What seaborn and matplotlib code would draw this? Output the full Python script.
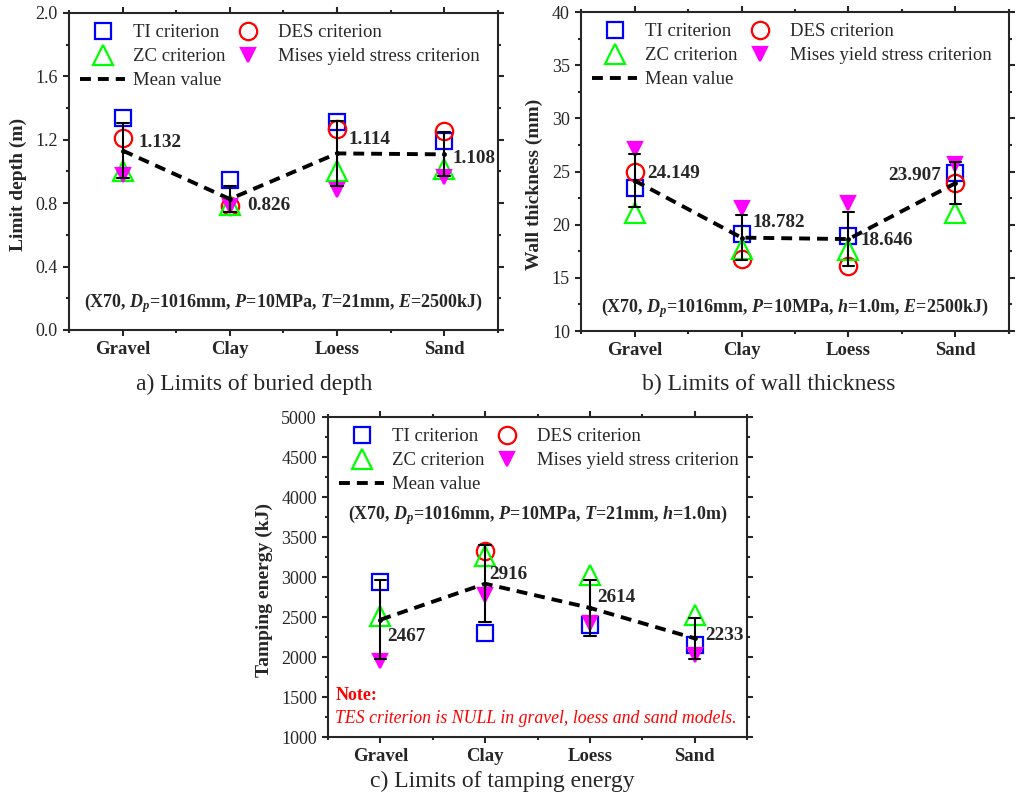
import numpy as np
import pandas as pd
import matplotlib
matplotlib.use("Agg")
import matplotlib.pyplot as plt
from matplotlib.lines import Line2D
from matplotlib.ticker import MultipleLocator, FormatStrFormatter
import seaborn as sns

soils = ["Gravel", "Clay", "Loess", "Sand"]
criteria = ["TI criterion", "DES criterion", "ZC criterion", "Mises yield stress criterion"]

# a) limit depth (m)
depth_ti = [1.34, 0.945, 1.31, 1.195]
depth_des = [1.21, 0.785, 1.265, 1.256]
depth_zc = [1.00, 0.79, 1.00, 1.015]
depth_mises = [0.978, 0.784, 0.881, 0.966]
depth_mean_labels = ["1.132", "0.826", "1.114", "1.108"]

# b) wall thickness (mm)
wall_ti = [23.45, 19.1, 18.9, 24.9]
wall_des = [24.95, 16.728, 16.1, 23.9]
wall_zc = [21.1, 17.7, 17.584, 21.128]
wall_mises = [27.1, 21.6, 22.0, 25.7]
wall_mean_labels = ["24.149", "18.782", "18.646", "23.907"]

# c) tamping energy (kJ) - DES only exists for clay
energy_ti = [2940, 2294, 2400, 2150]
energy_des = [np.nan, 3330, np.nan, np.nan]
energy_zc = [2510, 3260, 3020, 2520]
energy_mises = [1950, 2780, 2422, 2029]
energy_mean_labels = ["2467", "2916", "2614", "2233"]

# marker styles: (marker, color, size, filled)
styles = {
    "TI criterion": ("s", "#0000ff", 11, False),
    "DES criterion": ("o", "#ff0000", 12.5, False),
    "ZC criterion": ("^", "#00ff00", 14, False),
    "Mises yield stress criterion": ("v", "#ff00ff", 9.5, True),
}

sns.set_style("ticks")
plt.rcParams["font.family"] = ["Liberation Serif", "DejaVu Serif"]
plt.rcParams["mathtext.fontset"] = "custom"
plt.rcParams["mathtext.it"] = "Liberation Serif:italic:bold"
plt.rcParams["mathtext.rm"] = "Liberation Serif:bold"
plt.rcParams["axes.linewidth"] = 1.5


def long_frame(ti, des, zc, mises):
    rows = []
    for crit, vals in zip(criteria, [ti, des, zc, mises]):
        for s, v in zip(soils, vals):
            rows.append({"soil": s, "criterion": crit, "value": v})
    return pd.DataFrame(rows).dropna()


def draw_panel(ax, df, mean_labels, offsets, ylim, major, minor, ylabel, cond, cond_y):
    handles = {}
    for crit in criteria:
        marker, color, ms, filled = styles[crit]
        sub = df[df["criterion"] == crit]
        n = len(ax.lines)
        sns.pointplot(data=sub, x="soil", y="value", order=soils, errorbar=None,
                      color=color, markers=marker, linestyles="none",
                      markersize=ms, markeredgewidth=1.6,
                      markerfacecolor=color if filled else "none", ax=ax)
        handles[crit] = ax.lines[n]

    # mean of the criteria with +-1 sd error bars
    n = len(ax.lines)
    sns.pointplot(data=df, x="soil", y="value", order=soils, estimator="mean",
                  errorbar="sd", color="black", markers="o", linestyles="--",
                  markersize=3.5, markeredgewidth=0, linewidth=2.8,
                  capsize=0.11, err_kws={"linewidth": 1.5}, ax=ax)
    mean_line = ax.lines[n]
    mean_line.set_linestyle((0, (2.8, 1.8)))

    means = df.groupby("soil")["value"].mean().reindex(soils)
    for i, (lab, (dx, dy)) in enumerate(zip(mean_labels, offsets)):
        ha = "right" if dx < 0 else "left"
        ax.annotate(lab, xy=(i, means.iloc[i]), xytext=(dx * 0.72, dy * 0.72),
                    textcoords="offset points", ha=ha, va="center",
                    fontsize=13.8, fontweight="bold")

    mean_proxy = Line2D([], [], color="black", linewidth=2.8, linestyle=(0, (2.8, 1.8)))
    hl = [handles["TI criterion"], handles["ZC criterion"], mean_proxy,
          handles["DES criterion"], handles["Mises yield stress criterion"]]
    labels = ["TI criterion", "ZC criterion", "Mean value",
              "DES criterion", "Mises yield stress criterion"]
    ax.legend(hl, labels, ncol=2, loc="upper left", frameon=False, fontsize=13.5,
              handlelength=2.4, handletextpad=0.4, columnspacing=0.0,
              labelspacing=0.36, borderaxespad=0.3, borderpad=0.3)

    ax.text(0.5, cond_y, cond, transform=ax.transAxes, ha="center", va="center",
            fontsize=13, fontweight="bold")

    ax.set_xlim(-0.5, 3.5)
    ax.set_ylim(*ylim)
    ax.yaxis.set_major_locator(MultipleLocator(major))
    ax.yaxis.set_minor_locator(MultipleLocator(minor))
    ax.xaxis.set_minor_locator(MultipleLocator(0.5))
    ax.tick_params(which="both", direction="out", top=True, right=True, width=1.5)
    ax.tick_params(which="major", length=4.5, labelsize=13)
    ax.tick_params(which="minor", length=2.5)
    for t in ax.get_xticklabels():
        t.set_fontweight("bold")
        t.set_fontsize(13.5)
    ax.set_xlabel("")
    ax.set_ylabel(ylabel, fontsize=14, fontweight="bold", labelpad=6)
    ax.yaxis.label.set_y(0.459)
    for sp in ax.spines.values():
        sp.set_visible(True)
        sp.set_linewidth(1.5)


fig = plt.figure(figsize=(10.28, 8.06), dpi=100)
ax_a = fig.add_axes([0.0671, 0.5906, 0.4173, 0.3933])
ax_b = fig.add_axes([0.5652, 0.5893, 0.4163, 0.3958])
ax_c = fig.add_axes([0.3191, 0.0856, 0.4076, 0.3970])

draw_panel(ax_a, long_frame(depth_ti, depth_des, depth_zc, depth_mises),
           depth_mean_labels, [(16, 7.6), (17, -6), (11, 14), (8, -4)],
           (0, 2.0), 0.4, 0.2, "Limit depth (m)",
           r"(X70, $D_p$=1016mm, $P$=10MPa, $T$=21mm, $E$=2500kJ)", 0.085)
ax_a.yaxis.set_major_formatter(FormatStrFormatter("%.1f"))

draw_panel(ax_b, long_frame(wall_ti, wall_des, wall_zc, wall_mises),
           wall_mean_labels, [(13, 7), (11, 15), (12, -1), (-14, 8)],
           (10, 40), 5, 2.5, "Wall thickness (mm)",
           r"(X70, $D_p$=1016mm, $P$=10MPa, $h$=1.0m, $E$=2500kJ)", 0.072)

draw_panel(ax_c, long_frame(energy_ti, energy_des, energy_zc, energy_mises),
           energy_mean_labels, [(7, -17), (4, 9), (7, 10), (11, 3)],
           (1000, 5000), 500, 250, "Tamping energy (kJ)",
           r"(X70, $D_p$=1016mm, $P$=10MPa, $T$=21mm, $h$=1.0m)", 0.694)
ax_c.text(0.017, 0.131, "Note:", transform=ax_c.transAxes, color="red",
          fontsize=13, fontweight="bold", va="center")
ax_c.text(0.017, 0.059, "TES criterion is NULL in gravel, loess and sand models.",
          transform=ax_c.transAxes, color="red", fontsize=12.8, style="italic", va="center")

fig.text(0.247, 0.5236, "a) Limits of buried depth", ha="center", va="center", fontsize=17)
fig.text(0.748, 0.5236, "b) Limits of wall thickness", ha="center", va="center", fontsize=17)
fig.text(0.489, 0.031, "c) Limits of tamping energy", ha="center", va="center", fontsize=17)

fig.savefig("out.png", dpi=100)
